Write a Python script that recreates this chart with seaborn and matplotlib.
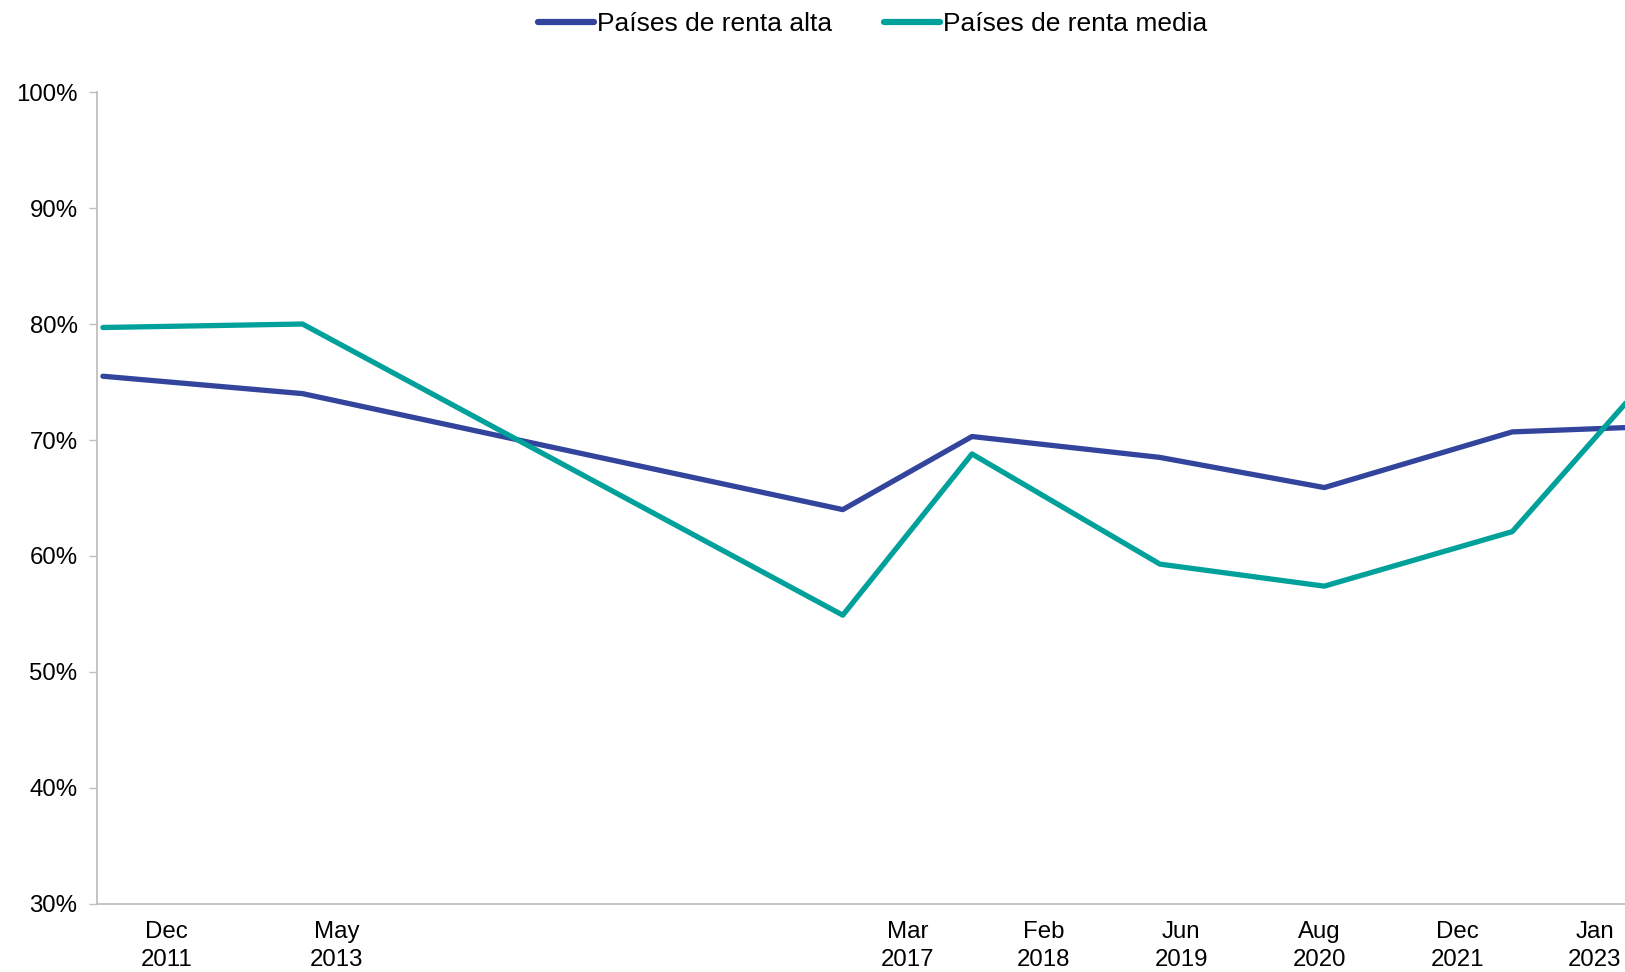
import matplotlib
matplotlib.use("Agg")
import matplotlib.pyplot as plt
import seaborn as sns
import pandas as pd
from matplotlib.ticker import PercentFormatter

# ---- data ----
dates = ["2011-12", "2013-05", "2017-03", "2018-02", "2019-06", "2020-08", "2021-12", "2023-01"]
renta_alta = [0.755, 0.740, 0.640, 0.703, 0.685, 0.659, 0.707, 0.712]
renta_media = [0.797, 0.800, 0.549, 0.688, 0.593, 0.574, 0.621, 0.770]
series_names = ["Países de renta alta", "Países de renta media"]
tick_labels = ["Dec\n2011", "May\n2013", "Mar\n2017", "Feb\n2018", "Jun\n2019", "Aug\n2020", "Dec\n2021", "Jan\n2023"]

# ---- layout ----
tick_pos = [5.4, 19.9, 68.5, 80.1, 91.8, 103.6, 115.3, 127.0]  # months since Dec 2011
colors = ["#32449C", "#00A19A"]

def month_index(s):
    y, m = map(int, s.split("-"))
    return (y - 2011) * 12 + (m - 12)

x = [month_index(d) for d in dates]
df = pd.DataFrame({
    "x": x * 2,
    "value": renta_alta + renta_media,
    "serie": [series_names[0]] * len(x) + [series_names[1]] * len(x),
})

sns.set_theme(style="white")
plt.rcParams["font.family"] = ["Liberation Sans", "DejaVu Sans"]
plt.rcParams["text.color"] = "black"
plt.rcParams["xtick.color"] = "black"
plt.rcParams["ytick.color"] = "black"

fig = plt.figure(figsize=(16.25, 9.72), dpi=100)
ax = fig.add_axes([97 / 1625, 0.070, 1 - 97 / 1625, 0.8353])

sns.lineplot(data=df, x="x", y="value", hue="serie", palette=colors,
             linewidth=3.8, ax=ax, legend=True)

ax.set_xlim(-0.5, 129.6)
ax.set_ylim(0.3, 1.0)
ax.set_yticks([0.3, 0.4, 0.5, 0.6, 0.7, 0.8, 0.9, 1.0])
ax.yaxis.set_major_formatter(PercentFormatter(1.0, decimals=0))
ax.set_xticks(tick_pos)
ax.set_xticklabels(tick_labels, linespacing=1.4)
ax.set_xlabel("")
ax.set_ylabel("")

for side in ["top", "right"]:
    ax.spines[side].set_visible(False)
for side in ["left", "bottom"]:
    ax.spines[side].set_color("#BFBFBF")
    ax.spines[side].set_linewidth(1.3)

ax.tick_params(axis="y", which="both", left=True, length=6, width=1.0,
               color="#BFBFBF", labelsize=17.3, pad=8, labelcolor="black")
ax.tick_params(axis="x", which="both", bottom=False, length=0,
               labelsize=17.3, pad=12, labelcolor="black")

handles, labels = ax.get_legend_handles_labels()
ax.legend_.remove()
for h in handles:
    h.set_linewidth(4.5)
    h.set_solid_capstyle("round")
leg = fig.legend(handles, labels, loc="center", bbox_to_anchor=(0.537, 0.975),
                 ncol=2, frameon=False, fontsize=19, handlelength=2.1,
                 handletextpad=0.1, columnspacing=2.0)
for t in leg.get_texts():
    t.set_color("black")

fig.savefig("out.png", dpi=100)
